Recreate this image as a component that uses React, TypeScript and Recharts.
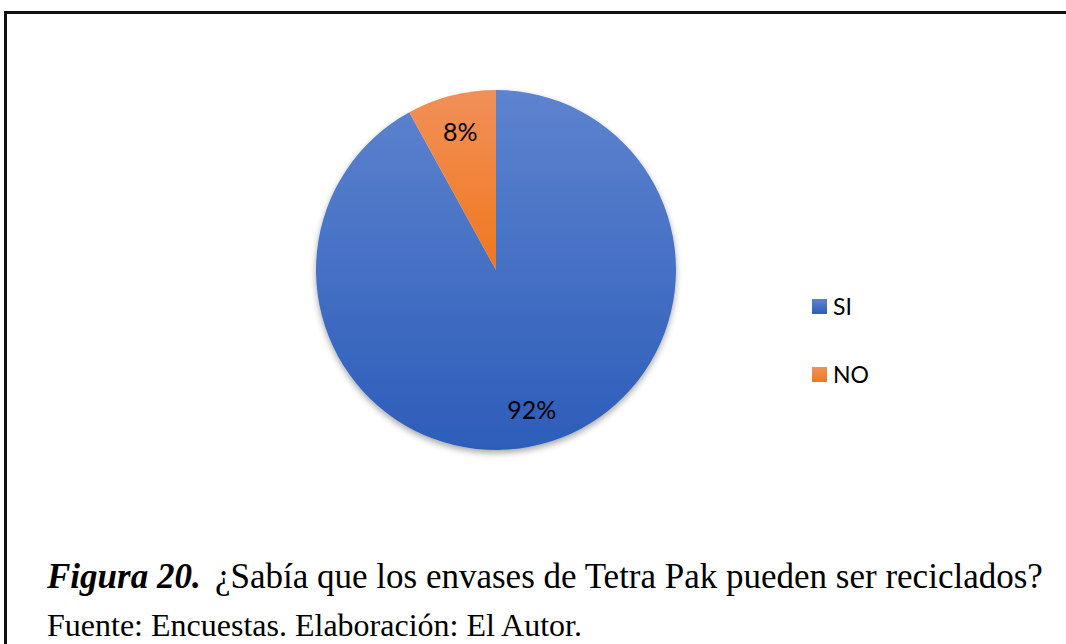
import * as React from "react"
import { PieChart, Pie, Cell, Legend } from "recharts"

// Survey answers (percent)
const categories = ["SI", "NO"]
const values = [92, 8]
const gradientIds = ["gradSi", "gradNo"]

const data = categories.map((name, i) => ({ name, value: values[i] }))

const RADIAN = Math.PI / 180
const serif = "'Liberation Serif', 'Times New Roman', serif"
const sans = "Lato, 'Noto Sans', sans-serif"

function SliceLabel(props: any) {
  const { cx, cy, midAngle, outerRadius, percent } = props
  const r = outerRadius * 0.8
  const x = cx + r * Math.cos(-midAngle * RADIAN)
  const y = cy + r * Math.sin(-midAngle * RADIAN)
  return (
    <text x={x} y={y} textAnchor="middle" dominantBaseline="central" fill="#000" fontFamily={sans} fontSize={25}>
      {`${Math.round(percent * 100)}%`}
    </text>
  )
}

// legend in the same order as the categories
function LegendContent() {
  return (
    <div>
      {categories.map((name, i) => (
        <div key={name} style={{ display: "flex", alignItems: "center", height: 24, marginBottom: i === 0 ? 44 : 0 }}>
          <svg width={15} height={15} style={{ marginRight: 6 }}>
            <rect width={15} height={15} fill={`url(#${gradientIds[i]})`} />
          </svg>
          <span style={{ fontFamily: sans, fontSize: 23, color: "#000" }}>{name}</span>
        </div>
      ))}
    </div>
  )
}

export default function App() {
  return (
    <div style={{ position: "fixed", left: 0, top: 0, width: 1066, height: 644, background: "#fff", overflow: "hidden" }}>
      <div style={{ position: "absolute", left: 4, top: 11, width: 1100, height: 700, borderTop: "3px solid #111", borderLeft: "3px solid #111" }} />
      <div style={{ position: "absolute", left: 0, top: 0 }}>
        <PieChart width={1066} height={520} margin={{ top: 0, right: 0, bottom: 0, left: 0 }}>
          <defs>
            <linearGradient id="gradSi" x1="0" x2="0" y1="0" y2="1">
              <stop offset="0%" stopColor="#5e83cf" />
              <stop offset="100%" stopColor="#2c5db9" />
            </linearGradient>
            <linearGradient id="gradNo" x1="0" x2="0" y1="0" y2="1">
              <stop offset="0%" stopColor="#f19059" />
              <stop offset="100%" stopColor="#f2771d" />
            </linearGradient>
            <filter id="pieShadow" x="-10%" y="-10%" width="120%" height="125%">
              <feDropShadow dx="0" dy="3" stdDeviation="3" floodColor="#000" floodOpacity="0.35" />
            </filter>
          </defs>
          <Pie
            data={data}
            dataKey="value"
            nameKey="name"
            cx={496}
            cy={270}
            outerRadius={180}
            startAngle={90}
            endAngle={-270}
            stroke="none"
            label={SliceLabel}
            labelLine={false}
            isAnimationActive={false}
          >
            {data.map((d, i) => (
              <Cell key={d.name} fill={`url(#${gradientIds[i]})`} filter={i === 0 ? "url(#pieShadow)" : undefined} />
            ))}
          </Pie>
          <Legend
            layout="vertical"
            content={<LegendContent />}
            wrapperStyle={{ position: "absolute", left: 812, top: 294, width: 120 }}
          />
        </PieChart>
      </div>
      <div style={{ position: "absolute", left: 47, top: 559, fontFamily: serif, fontSize: 35, lineHeight: "35px", fontWeight: "bold", fontStyle: "italic", color: "#000", whiteSpace: "nowrap" }}>
        Figura 20.
      </div>
      <div style={{ position: "absolute", left: 215, top: 559, fontFamily: serif, fontSize: 35, lineHeight: "35px", color: "#000", whiteSpace: "nowrap" }}>
        ¿Sabía que los envases de Tetra Pak pueden ser reciclados?
      </div>
      <div style={{ position: "absolute", left: 47, top: 609, fontFamily: serif, fontSize: 32, lineHeight: "32px", color: "#000", whiteSpace: "nowrap" }}>
        Fuente: Encuestas. Elaboración: El Autor.
      </div>
    </div>
  )
}
